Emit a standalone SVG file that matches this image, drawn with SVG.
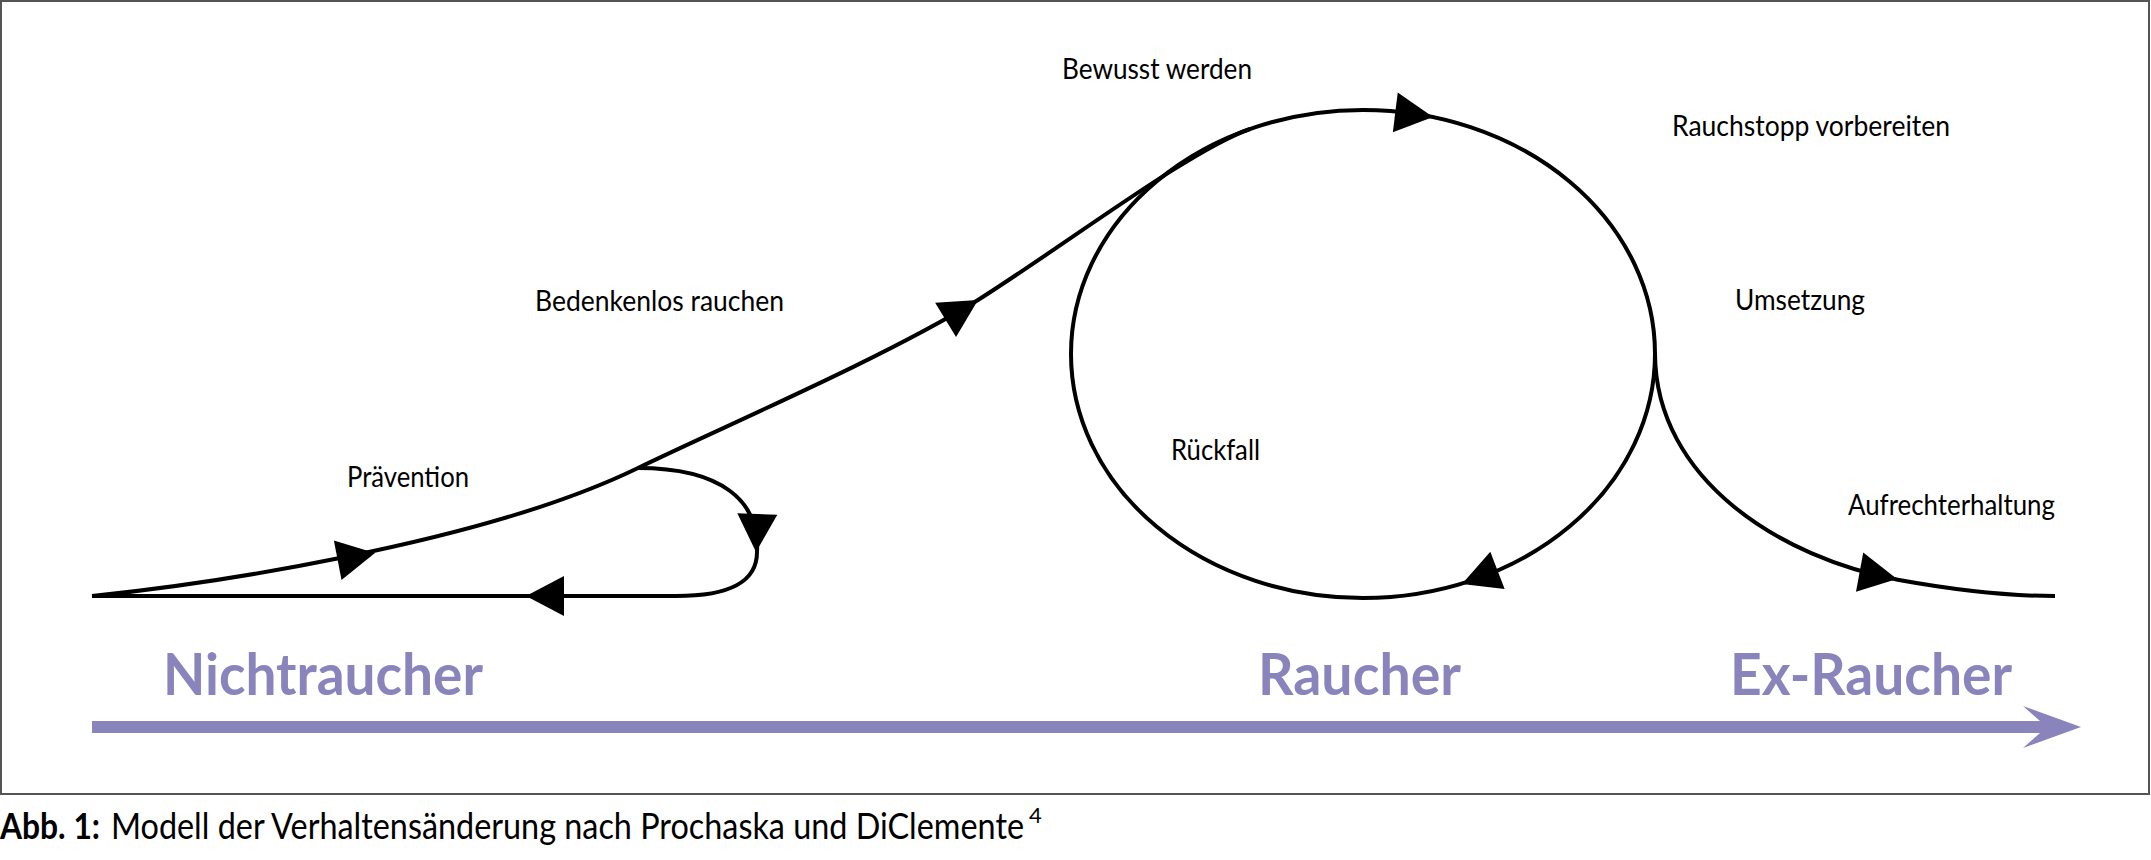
<svg xmlns="http://www.w3.org/2000/svg" xmlns:xlink="http://www.w3.org/1999/xlink" width="2151" height="860" viewBox="0 0 2151 860">
<style>
.line{fill:none;stroke:#000;stroke-width:4;stroke-linejoin:round}
.ah{fill:#000}
.lbl{font-family:Lato,"Liberation Sans",sans-serif;font-size:29px;fill:#000}
.stage{font-family:Lato,"Liberation Sans",sans-serif;font-size:58px;font-weight:bold;fill:#8a84bd}
.cap{font-family:Lato,"Liberation Sans",sans-serif;font-size:36px;fill:#000}
</style>
<defs>
<path id="ah" d="M0,0 L-38,-20 L-38,20 Z"/>
</defs>
<rect x="1" y="1" width="2148" height="793" fill="#fff" stroke="#555" stroke-width="2"/>
<g id="connectors">
<path class="line" d="M92,596 C200,585 480,545 638,468 C720,428 880,360 978,300 C1068,243 1190,150 1250,129"/>
<ellipse class="line" cx="1363" cy="354" rx="292" ry="244"/>
<path class="line" d="M638,468 C720,468 760,500 757,552 C757,582 730,596 676,596 L92,596"/>
<path class="line" d="M1655,354 C1656,480 1781,558 1899,580 C1960,591 2010,596 2055,596"/>
<use href="#ah" class="ah" transform="translate(375,553) rotate(-11)"/>
<use href="#ah" class="ah" transform="translate(978,300) rotate(-31.5)"/>
<use href="#ah" class="ah" transform="translate(1433,117) rotate(7)"/>
<use href="#ah" class="ah" transform="translate(756,552) rotate(92)"/>
<use href="#ah" class="ah" transform="translate(526,596) rotate(180)"/>
<use href="#ah" class="ah" transform="translate(1462,584) rotate(159)"/>
<use href="#ah" class="ah" transform="translate(1897,579) rotate(10.4)"/>
</g>
<g id="axis">
<path d="M92,721 L2040,721 L2023,706 L2081,727 L2023,748 L2040,733 L92,733 Z" fill="#8a84bd"/>
</g>
<g id="stage-nichtraucher"><text class="stage" x="163" y="695" textLength="320" lengthAdjust="spacingAndGlyphs">Nichtraucher</text></g>
<g id="stage-raucher"><text class="stage" x="1258" y="695" textLength="203" lengthAdjust="spacingAndGlyphs">Raucher</text></g>
<g id="stage-exraucher"><text class="stage" x="1730" y="695" textLength="282" lengthAdjust="spacingAndGlyphs">Ex-Raucher</text></g>
<g id="label-praevention"><text class="lbl" x="347" y="487" textLength="122" lengthAdjust="spacingAndGlyphs">Prävention</text></g>
<g id="label-bedenkenlos"><text class="lbl" x="535" y="311" textLength="249" lengthAdjust="spacingAndGlyphs">Bedenkenlos rauchen</text></g>
<g id="label-bewusst"><text class="lbl" x="1062" y="79" textLength="190" lengthAdjust="spacingAndGlyphs">Bewusst werden</text></g>
<g id="label-rauchstopp"><text class="lbl" x="1672" y="136" textLength="278" lengthAdjust="spacingAndGlyphs">Rauchstopp vorbereiten</text></g>
<g id="label-umsetzung"><text class="lbl" x="1735" y="310" textLength="130" lengthAdjust="spacingAndGlyphs">Umsetzung</text></g>
<g id="label-rueckfall"><text class="lbl" x="1171" y="460" textLength="89" lengthAdjust="spacingAndGlyphs">Rückfall</text></g>
<g id="label-aufrecht"><text class="lbl" x="1848" y="515" textLength="207" lengthAdjust="spacingAndGlyphs">Aufrechterhaltung</text></g>
<g id="caption">
<text class="cap" y="839"><tspan x="0" font-weight="bold" textLength="100" lengthAdjust="spacingAndGlyphs">Abb. 1:</tspan><tspan x="111" textLength="913" lengthAdjust="spacingAndGlyphs">Modell der Verhaltensänderung nach Prochaska und DiClemente</tspan><tspan x="1029" y="823" font-size="22">4</tspan></text>
</g>
</svg>
